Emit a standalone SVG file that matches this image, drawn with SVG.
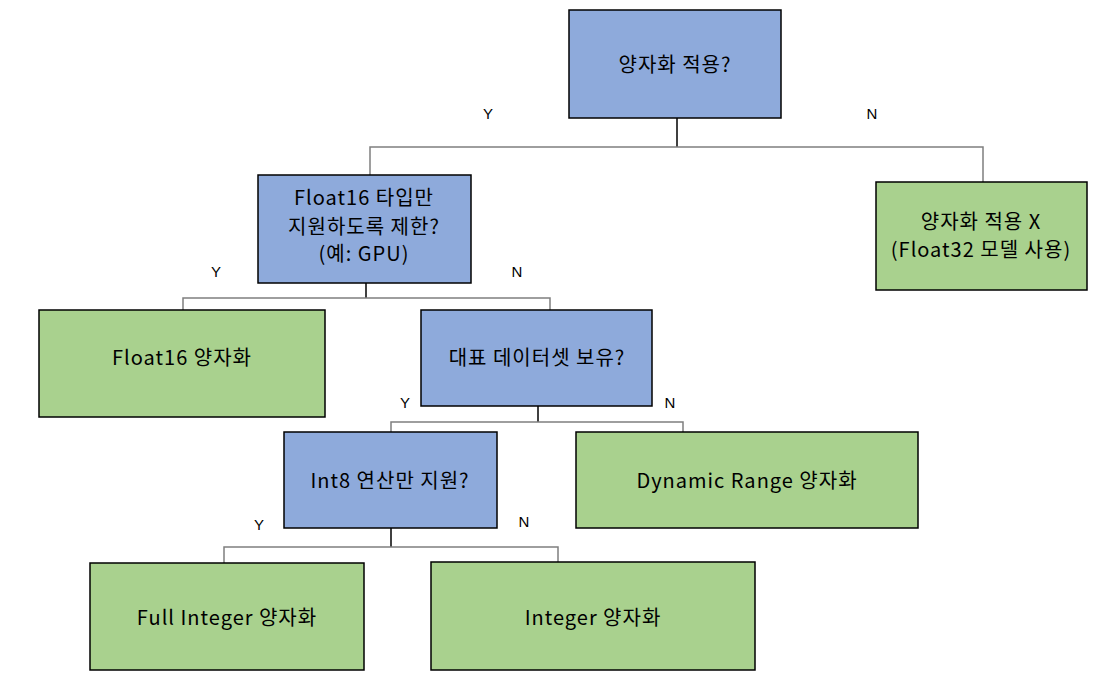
<svg xmlns="http://www.w3.org/2000/svg" width="1116" height="693" viewBox="0 0 1116 693">
<style>
.q{fill:#8eaadb;stroke:#000;stroke-width:1.5}
.a{fill:#a9d18e;stroke:#000;stroke-width:1.5}
.t{font-family:"Noto Sans CJK KR","Noto Sans",sans-serif;font-size:20px;letter-spacing:1px;fill:#000;text-anchor:middle}
.l{font-family:"Liberation Sans",Arial,sans-serif;font-size:15px;fill:#000;text-anchor:middle}
.h{fill:none;stroke:#7f7f7f;stroke-width:1.5}
.s{fill:none;stroke:#404040;stroke-width:2}
</style>
<rect width="1116" height="693" fill="#fff"/>
<g id="connectors">
<path class="s" d="M677 118V147"/>
<path class="h" d="M370 175V147H983V182"/>
<path class="s" d="M366 283V298"/>
<path class="h" d="M183 310V298H550V310"/>
<path class="s" d="M538 406V422"/>
<path class="h" d="M391 432V422H683V432"/>
<path class="s" d="M391 528V547"/>
<path class="h" d="M224 563V547H558V562"/>
</g>
<g id="labels">
<text class="l" x="488" y="119">Y</text>
<text class="l" x="872" y="119">N</text>
<text class="l" x="216" y="277">Y</text>
<text class="l" x="517" y="277">N</text>
<text class="l" x="405" y="408">Y</text>
<text class="l" x="670" y="408">N</text>
<text class="l" x="259" y="530">Y</text>
<text class="l" x="524" y="527">N</text>
</g>
<g id="root">
<rect class="q" x="569" y="10" width="212" height="108"/>
<text class="t" x="675" y="72">양자화 적용?</text>
</g>
<g id="float16q">
<rect class="q" x="258" y="175" width="213" height="108"/>
<text class="t" x="364" y="205">Float16 타입만</text>
<text class="t" x="364" y="234">지원하도록 제한?</text>
<text class="t" x="364" y="261">(예: GPU)</text>
</g>
<g id="noquant">
<rect class="a" x="876" y="182" width="211" height="108"/>
<text class="t" x="981" y="229">양자화 적용 X</text>
<text class="t" x="981" y="257">(Float32 모델 사용)</text>
</g>
<g id="float16">
<rect class="a" x="39" y="310" width="286" height="107"/>
<text class="t" x="182" y="365">Float16 양자화</text>
</g>
<g id="datasetq">
<rect class="q" x="421" y="310" width="231" height="96"/>
<text class="t" x="537" y="365">대표 데이터셋 보유?</text>
</g>
<g id="int8q">
<rect class="q" x="284" y="432" width="213" height="96"/>
<text class="t" x="390" y="488">Int8 연산만 지원?</text>
</g>
<g id="dynamic">
<rect class="a" x="576" y="432" width="342" height="96"/>
<text class="t" x="747" y="488">Dynamic Range 양자화</text>
</g>
<g id="fullint">
<rect class="a" x="90" y="563" width="274" height="107"/>
<text class="t" x="227" y="625">Full Integer 양자화</text>
</g>
<g id="integer">
<rect class="a" x="431" y="562" width="324" height="108"/>
<text class="t" x="593" y="625">Integer 양자화</text>
</g>
</svg>
